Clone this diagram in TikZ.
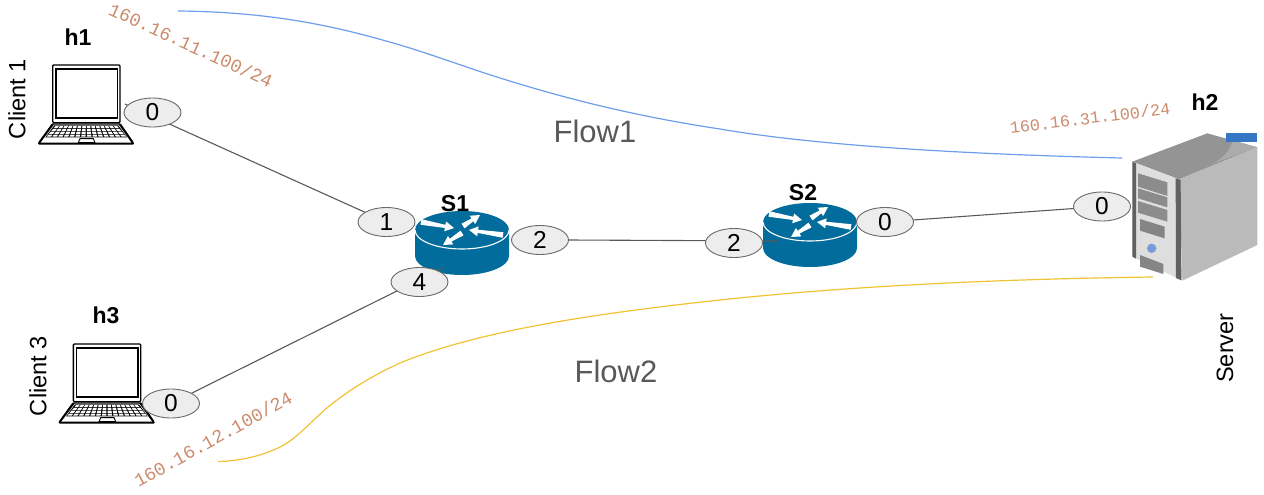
\documentclass[tikz,border=0pt]{standalone}
\usepackage{fontspec}
\setmainfont{Liberation Sans}
\newfontfamily\ipfont{Liberation Mono}
\usetikzlibrary{calc,shapes.geometric}
\definecolor{routerblue}{HTML}{026C9C}
\definecolor{iptext}{HTML}{CC8B6C}
\definecolor{flowblue}{HTML}{6D9EEB}
\definecolor{flowyellow}{HTML}{F1C232}
\definecolor{linkgray}{HTML}{595959}
\definecolor{flowtext}{HTML}{595959}
\newcommand\rtarrow[2]{%
  \coordinate (ta) at (#1);
  \coordinate (tb) at (#2);
  \coordinate (tn) at ($(tb)!9pt!(ta)$);
  \fill[white] ($(ta)!2.8pt!90:(tb)$) -- ($(tn)!1.6pt!90:(tb)$) -- ($(tn)!5pt!90:(tb)$) -- (tb)
     -- ($(tn)!5pt!-90:(tb)$) -- ($(tn)!1.6pt!-90:(tb)$) -- ($(ta)!2.8pt!-90:(tb)$) -- cycle;
}
\tikzset{
  x=1pt,y=-1pt,
  port/.style={ellipse,draw=linkgray!90,fill=black!7,line width=.9pt,minimum width=57pt,minimum height=29pt,inner sep=0pt,font=\fontsize{24.5}{24.5}\selectfont},
  hostlabel/.style={inner sep=0pt,font=\fontsize{23}{23}\selectfont\bfseries},
  rolelabel/.style={inner sep=0pt,rotate=90,font=\fontsize{23.6}{24}\selectfont},
  iplabel/.style={inner sep=0pt,text=iptext},
  flowlabel/.style={inner sep=0pt,text=flowtext,font=\fontsize{31}{31}\selectfont},
  link/.style={draw=linkgray,line width=1.1pt},
  flowline/.style={line width=1.2pt},
  pics/router/.style={code={
    \fill[routerblue] (-47pt,0pt) -- (-47pt,-26pt) arc[start angle=180,end angle=360,x radius=47pt,y radius=19pt] -- (47pt,0pt) -- cycle;
    \fill[routerblue] (0pt,0pt) ellipse[x radius=47pt,y radius=19pt];
    \draw[white,line width=1.1pt] (-47pt,0pt) arc[start angle=180,end angle=360,x radius=47pt,y radius=19pt];
    \rtarrow{-41,-8}{-8,-2}
    \rtarrow{1,-4}{18,-15}
    \rtarrow{41,5}{7,0}
    \rtarrow{0,3}{-19,15}
  }},
  pics/laptop/.style={code={
    \begin{scope}[x=.3333pt,y=-.3333pt]
      \draw[black,line width=1.3pt,fill=white,rounded corners=1pt] (158,195) rectangle (360,368);
      \draw[black,line width=1.2pt] (168,207) rectangle (352,354);
      \fill[black,rounded corners=1pt] (156,370) -- (362,370) -- (402,428) -- (402,434) -- (114,434) -- (114,428) -- cycle;
      \fill[white] (162,374) -- (356,374) -- (394,428) -- (122,428) -- cycle;
      \fill[black] (163,376) -- (355,376) -- (381,412) -- (136,412) -- cycle;
      \foreach \r in {0,1,2,3}{
        \foreach \c in {0,...,13}{
          \pgfmathsetmacro\ya{378+\r*8.6}
          \pgfmathsetmacro\yb{\ya+6.2}
          \pgfmathsetmacro\la{165-(\ya-378)*.85}
          \pgfmathsetmacro\ra{353+(\ya-378)*.85}
          \pgfmathsetmacro\lb{165-(\yb-378)*.85}
          \pgfmathsetmacro\rb{353+(\yb-378)*.85}
          \pgfmathsetmacro\xaa{\la+(\ra-\la)*(\c+.12)/14}
          \pgfmathsetmacro\xab{\la+(\ra-\la)*(\c+.88)/14}
          \pgfmathsetmacro\xba{\lb+(\rb-\lb)*(\c+.12)/14}
          \pgfmathsetmacro\xbb{\lb+(\rb-\lb)*(\c+.88)/14}
          \fill[white] (\xaa,\ya) -- (\xab,\ya) -- (\xbb,\yb) -- (\xba,\yb) -- cycle;
        }
      }
      \draw[black,line width=.9pt,fill=white] (240,416) -- (280,416) -- (285,428) -- (235,428) -- cycle;
    \end{scope}
  }}
}
\begin{document}
\begin{tikzpicture}
\useasboundingbox (0,0) rectangle (1264,495);

% routers
\pic at (462,230) {router};
\pic at (810,222) {router};

% laptops
\pic at (0,0) {laptop};
\pic at (20.7,279) {laptop};

% server
\begin{scope}[shift={(1064pt,-120pt)},x=.3333pt,y=-.3333pt]
  \fill[black!42] (205,125) -- (430,40) -- (580,82) -- (345,178) -- cycle;
  \fill[black!33] (580,82) -- (505,61) .. controls (500,95) and (470,120) .. (440,133) -- cycle;
  \fill[black!27] (345,178) -- (580,82) -- (580,375) -- (355,482) -- cycle;
  \fill[black!13] (205,125) -- (345,178) -- (355,482) -- (205,410) -- cycle;
  \fill[black!62] (205,125) -- (216,130) -- (216,416) -- (205,410) -- cycle;
  \fill[black!62] (335,175) -- (350,180) -- (352,481) -- (336,474) -- cycle;
  \fill[black!45] (222,160) -- (310,187) -- (310,228) -- (222,200) -- cycle;
  \fill[black!45] (222,205) -- (310,232) -- (310,262) -- (222,235) -- cycle;
  \fill[black!45] (222,243) -- (310,270) -- (310,305) -- (222,278) -- cycle;
  \fill[black!48] (228,297) -- (302,320) -- (302,355) -- (228,332) -- cycle;
  \fill[black!48] (228,405) -- (298,432) -- (298,462) -- (228,440) -- cycle;
  \fill[cyan!45!blue!55!white] (263,385) circle[radius=14];
  \fill[cyan!45!blue!85!white] (485,38) rectangle (580,65);
\end{scope}

% named end points
\coordinate (h1c) at (125,104);
\coordinate (s1s) at (443,268);
\coordinate (s1e) at (568,240);
\coordinate (s2w) at (778,241);
\coordinate (fa) at (178,11);
\coordinate (fb) at (1122,158);
\coordinate (fc) at (218,461.5);
\coordinate (fd) at (1153,277);

% links
\draw[link] (h1c) -- (386.5,222) coordinate (l1);
\draw[link] (171,403.5) coordinate (l4) -- (s1s);
\draw[link] (s1e) -- (s2w);
\draw[link] (885,222) coordinate (l3) -- (1102,206.5);

% ports
\node[port] (p10) at (152.5,112.5) {0};
\node[port] (p11) at (386.5,222) {1};
\node[port] (p12) at (540,240) {2};
\node[port] (p14) at (419.5,282) {4};
\node[port] (p22) at (734,243) {2};
\node[port] (p20) at (885,222) {0};
\node[port] (p30) at (1102,206.5) {0};
\node[port] (p40) at (171,403.5) {0};

% flows
\draw[flowblue,flowline] (fa) .. controls (280,12) and (345,29) .. (400,45)
   .. controls (435,55.5) and (465,67) .. (500,78)
   .. controls (570,100) and (640,117) .. (720,129)
   .. controls (830,148) and (1000,155) .. (fb);
\draw[flowyellow,flowline] (fc) .. controls (240,461) and (262,456) .. (280,447)
   .. controls (300,437) and (315,416) .. (337,400)
   .. controls (357,385) and (378,373) .. (400,363)
   .. controls (480,330) and (600,313) .. (720,300)
   .. controls (850,286) and (1000,279) .. (fd);

% labels
\node[hostlabel] (lh1) at (78,37) {h1};
\node[hostlabel] (lh2) at (1205,102) {h2};
\node[hostlabel] (lh3) at (106,315) {h3};
\node[hostlabel] (ls1) at (455,204) {S1};
\node[hostlabel] (ls2) at (803,193) {S2};
\node[rolelabel] (lc1) at (17,99) {Client 1};
\node[rolelabel] (lc3) at (38,376) {Client 3};
\node[rolelabel] (lsv) at (1225,348) {Server};
\node[flowlabel] (lf1) at (595,131) {Flow1};
\node[flowlabel] (lf2) at (616,371) {Flow2};
\node[iplabel,rotate=-24.5,font=\ipfont\fontsize{18.5}{18.5}\selectfont] (ip1) at (191,45) {160.16.11.100/24};
\node[iplabel,rotate=7,font=\ipfont\fontsize{16.8}{17}\selectfont] (ip2) at (1090,118) {160.16.31.100/24};
\node[iplabel,rotate=29,font=\ipfont\fontsize{18.5}{18.5}\selectfont] (ip3) at (213,439) {160.16.12.100/24};
\end{tikzpicture}
\end{document}
